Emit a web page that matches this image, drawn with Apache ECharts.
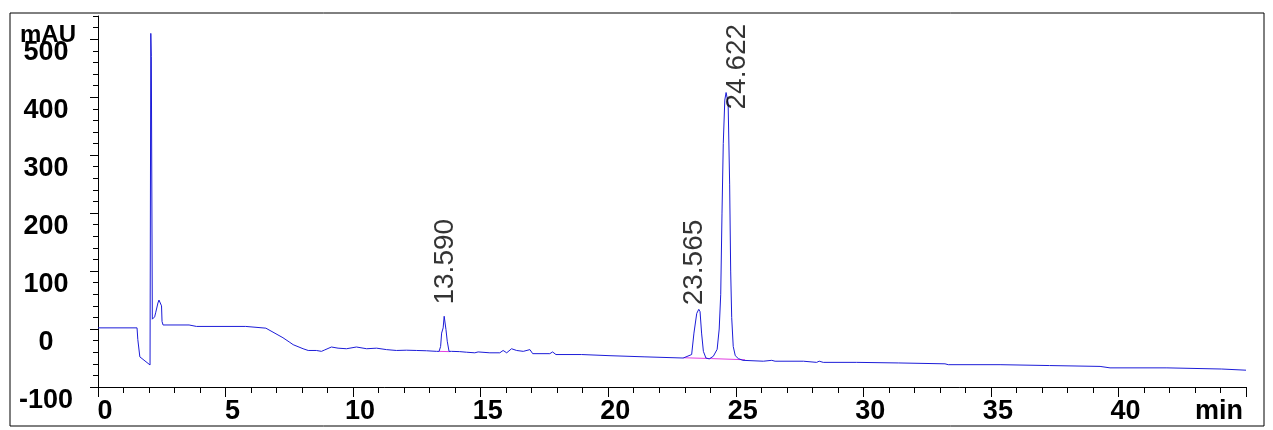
<!DOCTYPE html>
<html>
<head>
<meta charset="utf-8">
<script src="https://cdn.jsdelivr.net/npm/echarts@6/dist/echarts.min.js"></script>
<style>
html,body{margin:0;padding:0;background:#fff;}
#chart{width:1273px;height:430px;}
</style>
</head>
<body>
<div id="chart"></div>
<script>
// Retention time (min) and signal (mAU)
const times = [0,1.53,1.56,1.60,1.64,2.04,2.07,2.09,2.13,2.22,2.26,2.35,2.39,2.45,2.49,2.51,2.55,3.57,3.86,5.79,5.85,6.58,7.25,7.52,7.65,8.04,8.24,8.56,8.76,8.89,9.15,9.41,9.74,10.13,10.53,10.92,11.31,11.70,12.09,12.49,12.88,13.27,13.37,13.43,13.47,13.53,13.57,13.61,13.64,13.69,13.76,13.86,14.18,14.45,14.77,14.90,15.36,15.75,15.88,16.02,16.21,16.41,16.67,16.93,17.04,17.71,17.82,17.95,18.96,19.02,20.07,20.13,21.44,21.50,22.94,23.27,23.36,23.47,23.55,23.60,23.66,23.73,23.83,23.96,24.12,24.27,24.35,24.41,24.46,24.51,24.57,24.62,24.66,24.70,24.76,24.80,24.84,24.90,24.98,25.10,25.28,26.08,26.41,26.54,27.65,27.71,28.17,28.27,28.43,29.74,29.80,31.37,31.44,33.20,33.33,35.36,37.30,39.28,39.67,41.90,41.96,44.05,44.12,45.00];
const signal = [2,2,-18,-21,-48,-62,510,470,17,21,28,45,50,49,40,13,7,7,4.5,4.5,2,1.5,-15,-23,-27,-34,-37,-37,-38.5,-36,-31,-33,-34,-31,-34,-33,-35.5,-37,-36.5,-37,-37.5,-38.5,-38.5,-30,-7,2,22,25,-1,-21,-38.5,-38.5,-39,-40,-41,-39.5,-41,-41,-37,-41,-34,-37,-38.5,-35.5,-42.5,-42.5,-39.5,-44,-44,-46,-46,-48,-48,-50,-50,-44,-7,27,34,30,-7,-38.5,-50,-51.5,-47,-35,0,60,200,320,395,408,405,390,250,100,20,-30,-46,-51,-54,-55.5,-54,-55.5,-55.5,-57.5,-57.5,-55.5,-57.5,-57.5,-58.5,-58.5,-60,-60,-61.5,-61.5,-63,-64.5,-67,-67,-69,-69,-71,-71];

// Integrated peaks
const peakTimes = [13.590, 23.565, 24.622];
const peakHeights = [25, 34, 408];
const peakLabels = ['13.590', '23.565', '24.622'];

// Integration baselines
const base1Times = [13.37, 13.78];
const base1Values = [-38.5, -39];
const base2Times = [22.94, 24.06, 25.36];
const base2Values = [-49.5, -51, -53];

// Axis ticks
const xTickLabels = [0, 5, 10, 15, 20, 25, 30, 35, 40];
const yTickLabels = [-100, 0, 100, 200, 300, 400, 500];
const xUnit = 'min';
const yUnit = 'mAU';

const FONT = "'Liberation Sans', Arial, sans-serif";
const zip = (a, b) => a.map((t, i) => [t, b[i]]);

const yMinorVals = [];
for (let v = -100; v <= 540; v += 20) yMinorVals.push(v);
const xMinorVals = [];
for (let v = 0; v <= 45; v += 1) xMinorVals.push(v);

// screen shifts [dx, dy] of the rotated peak labels (to mimic the instrument's placement)
const labelShift = [[1, -10], [-5, -4], [11, 17]];

const chart = echarts.init(document.getElementById('chart'), null, {renderer: 'canvas'});
chart.setOption({
  animation: false,
  backgroundColor: '#fff',
  grid: {left: 98, right: 27, top: 16, bottom: 43, containLabel: false},
  xAxis: [{
    type: 'value', min: 0, max: 45,
    axisLine: {show: true, onZero: false, lineStyle: {color: '#000', width: 1}},
    axisTick: {show: true, customValues: [0,5,10,15,20,25,30,35,40,45], length: 10, lineStyle: {color: '#000'}},
    axisLabel: {customValues: xTickLabels, fontSize: 27, fontWeight: 'bold', fontFamily: FONT, color: '#000', margin: 11, padding: [0, 0, 0, 14]},
    splitLine: {show: false},
    name: xUnit, nameLocation: 'end', nameGap: -3,
    nameTextStyle: {fontSize: 27, fontWeight: 'bold', fontFamily: FONT, color: '#000', align: 'right', verticalAlign: 'top', padding: [11, 0, 0, 0]}
  }, {
    type: 'value', min: 0, max: 45, position: 'bottom',
    axisLine: {show: false, onZero: false},
    axisTick: {show: true, customValues: xMinorVals, length: 6, lineStyle: {color: '#000'}},
    axisLabel: {show: false},
    splitLine: {show: false}
  }],
  yAxis: [{
    type: 'value', min: -100, max: 540,
    axisLine: {show: true, onZero: false, lineStyle: {color: '#000', width: 1}},
    axisTick: {show: true, customValues: yTickLabels, length: 8, lineStyle: {color: '#000'}},
    axisLabel: {customValues: yTickLabels, fontSize: 27, fontWeight: 'bold', fontFamily: FONT, color: '#000', margin: 52, align: 'center', verticalAlign: 'top'},
    splitLine: {show: false}
  }, {
    type: 'value', min: -100, max: 540, position: 'left',
    axisLine: {show: false, onZero: false},
    axisTick: {show: true, customValues: yMinorVals, length: 5, lineStyle: {color: '#000'}},
    axisLabel: {show: false},
    splitLine: {show: false}
  }],
  graphic: [
    {type: 'rect', shape: {x: 10, y: 13, width: 1254, height: 413}, style: {fill: 'none', stroke: '#000', lineWidth: 1}, silent: true},
    {type: 'text', x: 20, y: 35, style: {text: yUnit, fontSize: 24, fontWeight: 'bold', fontFamily: FONT, fill: '#000', verticalAlign: 'middle', align: 'left'}}
  ],
  series: [
    {
      type: 'line', data: zip(base1Times, base1Values), showSymbol: false,
      lineStyle: {color: '#e23ee2', width: 1}, z: 2
    },
    {
      type: 'line', data: zip(base2Times, base2Values), showSymbol: false,
      lineStyle: {color: '#e23ee2', width: 1}, z: 2
    },
    {
      type: 'line', data: zip(times, signal), showSymbol: false,
      lineStyle: {color: '#1c1cd8', width: 1}, z: 3
    },
    {
      type: 'scatter', symbolSize: 0, z: 4,
      data: peakTimes.map((t, i) => ({
        value: [t, peakHeights[i]],
        label: {offset: [-labelShift[i][1], labelShift[i][0]]}
      })),
      label: {
        show: true, position: 'top', rotate: 90, align: 'left', verticalAlign: 'middle',
        distance: 0, fontSize: 28, fontFamily: FONT, color: '#000',
        formatter: p => peakLabels[p.dataIndex]
      }
    }
  ]
});
</script>
</body>
</html>
